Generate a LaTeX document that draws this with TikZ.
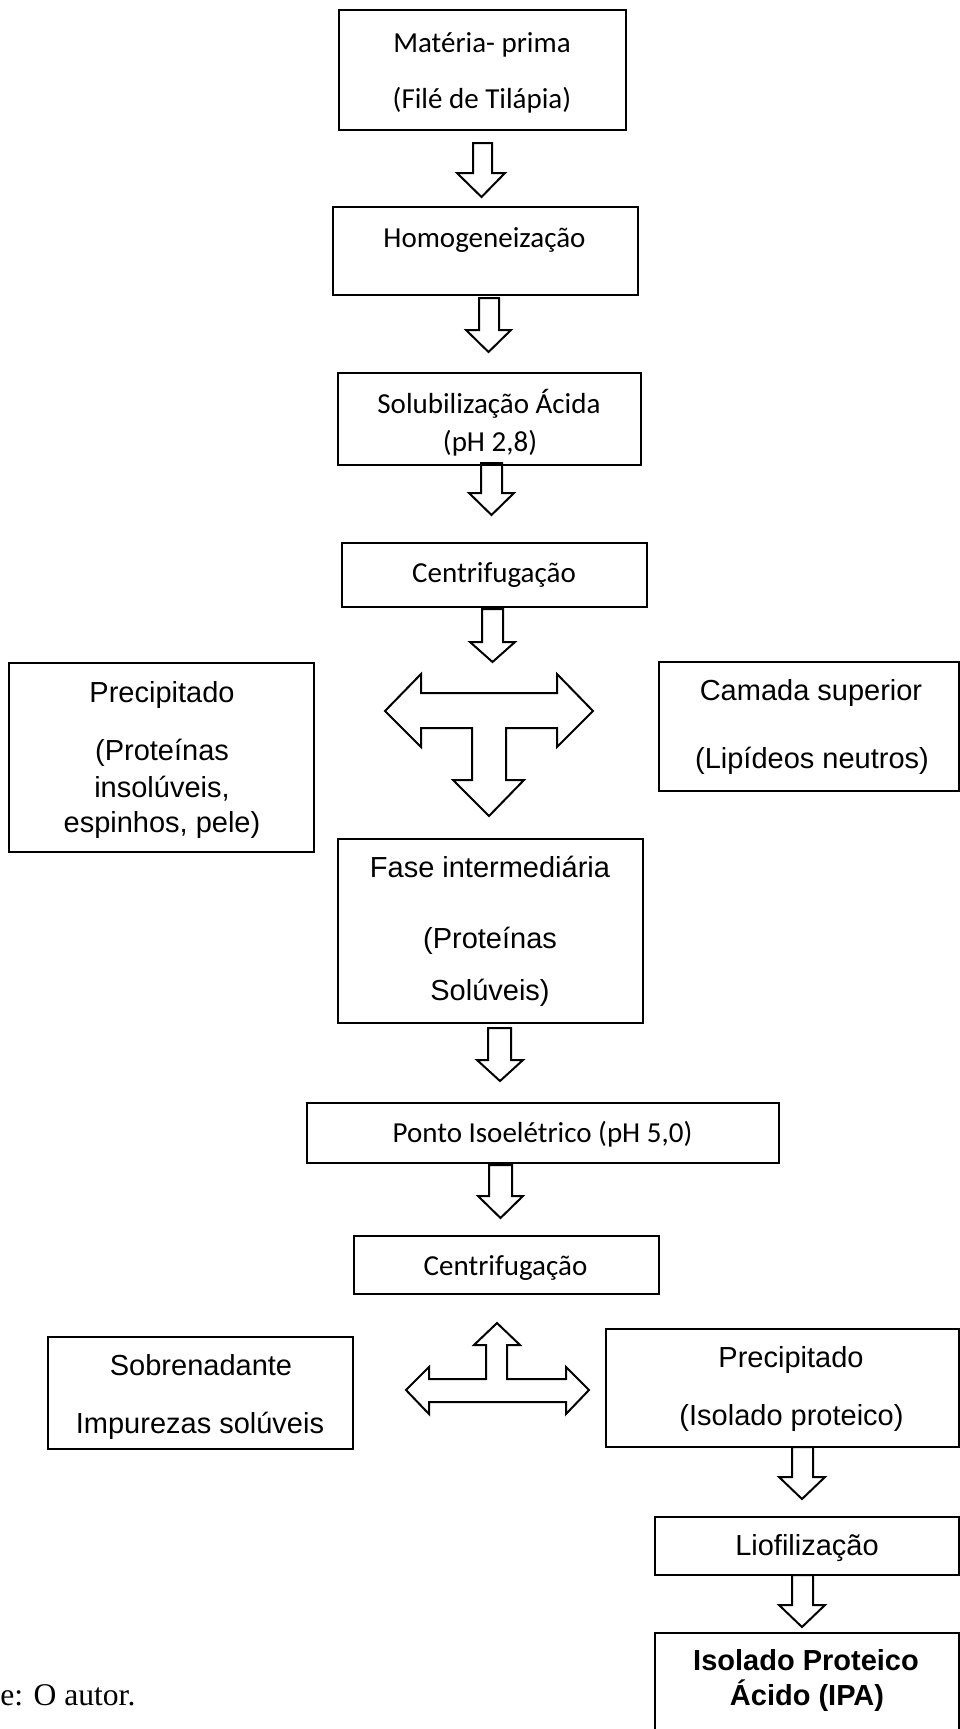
\documentclass[tikz,border=0pt]{standalone}
\usepackage{fontspec}
\newfontfamily\carlitofont{Carlito}
\newfontfamily\arialfont{Liberation Sans}
\newfontfamily\serifont{Liberation Serif}

\begin{document}
\begin{tikzpicture}[x=0.75pt,y=0.75pt,yscale=-1,xscale=1,
  shapeline/.style={line width=1.5pt, line join=miter},
  calibritext/.style={anchor=base, inner sep=0.75pt, font=\carlitofont\fontsize{21.75}{26}\selectfont},
  arialtext/.style={anchor=base, inner sep=0.75pt, font=\arialfont\fontsize{21.75}{26}\selectfont}]
\useasboundingbox (0,0) rectangle (960,1729);

%Shape: Rectangle
\draw [shapeline] (339,10) rectangle (626,130) ;
%Shape: Rectangle
\draw [shapeline] (333,207) rectangle (638,295) ;
%Shape: Rectangle
\draw [shapeline] (338,373) rectangle (641,465) ;
%Shape: Rectangle
\draw [shapeline] (342,543) rectangle (647,607) ;
%Shape: Rectangle
\draw [shapeline] (9,663) rectangle (314,852) ;
%Shape: Rectangle
\draw [shapeline] (659,662) rectangle (959,791) ;
%Shape: Rectangle
\draw [shapeline] (338,839) rectangle (643,1023) ;
%Shape: Rectangle
\draw [shapeline] (307,1103) rectangle (779,1163) ;
%Shape: Rectangle
\draw [shapeline] (354,1236) rectangle (659,1294) ;
%Shape: Rectangle
\draw [shapeline] (48,1337) rectangle (353,1449) ;
%Shape: Rectangle
\draw [shapeline] (606,1329) rectangle (959,1447) ;
%Shape: Rectangle
\draw [shapeline] (655,1517) rectangle (959,1575) ;
%Shape: Rectangle
\draw [shapeline] (655,1633) rectangle (959,1745) ;

%Shape: Down Arrow
\draw [shapeline] (473,143) -- (492,143) -- (492,173) -- (505,173) -- (481.5,197) -- (457,173) -- (473,173) -- cycle ;
%Shape: Down Arrow
\draw [shapeline] (479,298) -- (499,298) -- (499,330) -- (511,330) -- (488.5,352) -- (466,330) -- (479,330) -- cycle ;
%Shape: Down Arrow
\draw [shapeline] (481,463) -- (502,463) -- (502,493) -- (514,493) -- (491.5,515) -- (469,493) -- (481,493) -- cycle ;
%Shape: Down Arrow
\draw [shapeline] (482,609) -- (503,609) -- (503,642) -- (515,642) -- (492.5,662) -- (470,642) -- (482,642) -- cycle ;
%Shape: Down Arrow
\draw [shapeline] (488,1028) -- (511,1028) -- (511,1060) -- (523,1060) -- (500,1081) -- (477,1060) -- (488,1060) -- cycle ;
%Shape: Down Arrow
\draw [shapeline] (489,1165) -- (512,1165) -- (512,1196) -- (523,1196) -- (500.5,1218) -- (478,1196) -- (489,1196) -- cycle ;
%Shape: Down Arrow
\draw [shapeline] (792,1447) -- (813,1447) -- (813,1477) -- (825,1477) -- (802,1499) -- (779,1477) -- (792,1477) -- cycle ;
%Shape: Down Arrow
\draw [shapeline] (792,1575) -- (813,1575) -- (813,1605) -- (825,1605) -- (802,1627) -- (779,1605) -- (792,1605) -- cycle ;

%Shape: Left Right Down Arrow
\draw [shapeline] (385,711) -- (421,674) -- (421,693) -- (557,693) -- (557,674) -- (593,711) -- (557,747) -- (557,728) -- (506,728) -- (506,780) -- (524,780) -- (489,816) -- (453,780) -- (472,780) -- (472,728) -- (421,728) -- (421,747) -- cycle ;
%Shape: Left Right Up Arrow
\draw [shapeline] (406,1390) -- (429,1367) -- (429,1379) -- (486,1379) -- (486,1345) -- (474,1345) -- (497,1323) -- (520,1345) -- (507,1345) -- (507,1379) -- (566,1379) -- (566,1367) -- (589,1390) -- (566,1414) -- (566,1402) -- (429,1402) -- (429,1414) -- cycle ;

% Text Node
\draw (482,52) node [calibritext] (materia) {Matéria- prima};
% Text Node
\draw (482,108) node [calibritext] (file) {(Filé de Tilápia)};
% Text Node
\draw (484.5,247) node [calibritext] (homog) {Homogeneização};
% Text Node
\draw (489,413) node [calibritext] (solub) {Solubilização Ácida};
% Text Node
\draw (490,451) node [calibritext] (phacid) {(pH 2,8)};
% Text Node
\draw (494,582) node [calibritext] (centrif1) {Centrifugação};
% Text Node
\draw (162,702) node [arialtext] (precip1) {Precipitado};
% Text Node
\draw (162,760) node [arialtext] (protins1) {(Proteínas};
% Text Node
\draw (162,797) node [arialtext] (protins2) {insolúveis,};
% Text Node
\draw (162,832) node [arialtext] (protins3) {espinhos, pele)};
% Text Node
\draw (811,700) node [arialtext] (camada) {Camada superior};
% Text Node
\draw (812,768) node [arialtext] (lipid) {(Lipídeos neutros)};
% Text Node
\draw (490,877) node [arialtext] (fase) {Fase intermediária};
% Text Node
\draw (490,948) node [arialtext] (protsol1) {(Proteínas};
% Text Node
\draw (490,1000) node [arialtext] (protsol2) {Solúveis)};
% Text Node
\draw (542.5,1142) node [calibritext] (isoel) {Ponto Isoelétrico (pH 5,0)};
% Text Node
\draw (505.5,1275) node [calibritext] (centrif2) {Centrifugação};
% Text Node
\draw (201,1375) node [arialtext] (sobren) {Sobrenadante};
% Text Node
\draw (200,1433) node [arialtext] (impur) {Impurezas solúveis};
% Text Node
\draw (791,1367) node [arialtext] (precip2) {Precipitado};
% Text Node
\draw (791.5,1425) node [arialtext] (isolado) {(Isolado proteico)};
% Text Node
\draw (807,1555) node [arialtext] (liof) {Liofilização};
% Text Node
\draw (806,1670) node [arialtext, font=\arialfont\bfseries\fontsize{21.75}{26}\selectfont] (ipa1) {Isolado Proteico};
% Text Node
\draw (807,1705) node [arialtext, font=\arialfont\bfseries\fontsize{21.75}{26}\selectfont] (ipa2) {Ácido (IPA)};
% Text Node
\draw (0,1705) node [anchor=base west, inner sep=0pt, font=\serifont\fontsize{23.7}{28}\selectfont] (fonte) {e: O autor.};

\end{tikzpicture}
\end{document}
